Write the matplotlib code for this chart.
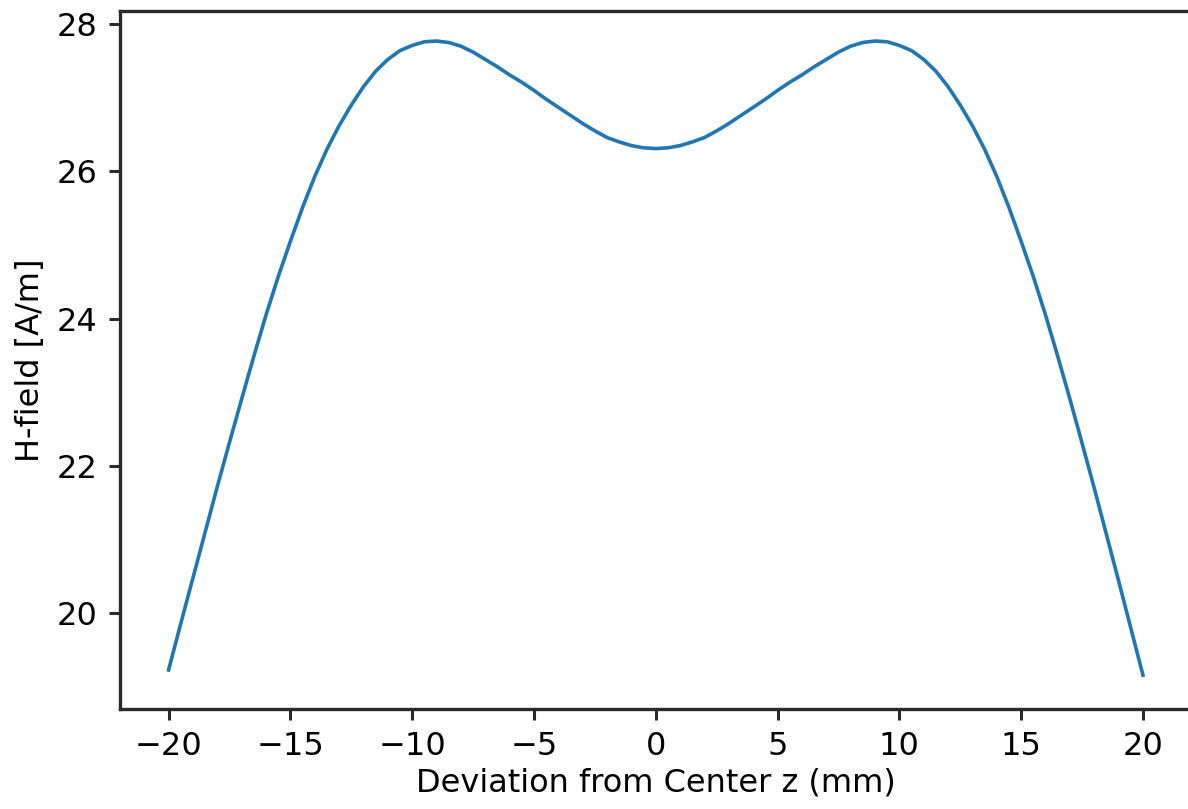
import matplotlib
matplotlib.use("Agg")
import matplotlib.pyplot as plt

# Deviation from center z (mm)
z_mm = [-20, -19.5, -19, -18.5, -18, -17.5, -17, -16.5, -16, -15.5, -15, -14.5, -14, -13.5,
        -13, -12.5, -12, -11.5, -11, -10.5, -10, -9.5, -9, -8.5, -8, -7.5, -7, -6.5, -6, -5.5,
        -5, -4.5, -4, -3.5, -3, -2.5, -2, -1.5, -1, -0.5,
        0, 0.5, 1, 1.5, 2, 2.5, 3, 3.5, 4, 4.5, 5, 5.5, 6, 6.5, 7, 7.5, 8, 8.5, 9, 9.5,
        10, 10.5, 11, 11.5, 12, 12.5, 13, 13.5, 14, 14.5, 15, 15.5, 16, 16.5, 17, 17.5,
        18, 18.5, 19, 19.5, 20]
# H-field (A/m)
h_field = [19.23, 19.86, 20.48, 21.10, 21.72, 22.32, 22.91, 23.49, 24.05, 24.57, 25.05, 25.51,
           25.93, 26.30, 26.62, 26.90, 27.15, 27.36, 27.52, 27.64, 27.71, 27.76, 27.77, 27.75,
           27.70, 27.62, 27.52, 27.42, 27.31, 27.21, 27.10, 26.98, 26.87, 26.76, 26.65, 26.55,
           26.46, 26.40, 26.35, 26.32,
           26.31, 26.32, 26.35, 26.40, 26.46, 26.55, 26.65, 26.76, 26.87, 26.98, 27.10, 27.21,
           27.31, 27.42, 27.52, 27.62, 27.70, 27.75, 27.77, 27.76, 27.71, 27.64, 27.52, 27.36,
           27.15, 26.90, 26.62, 26.30, 25.93, 25.51, 25.05, 24.57, 24.05, 23.49, 22.91, 22.31,
           21.70, 21.07, 20.44, 19.80, 19.16]

x_ticks = [-20, -15, -10, -5, 0, 5, 10, 15, 20]
y_ticks = [20, 22, 24, 26, 28]

fig = plt.figure(figsize=(11.88, 8.09), dpi=100)
ax = fig.add_axes([0.101, 0.1236, 0.902, 0.863])
ax.plot(z_mm, h_field, color="#1f77b4", linewidth=2.6)

ax.set_xticks(x_ticks)
ax.set_yticks(y_ticks)
ax.set_xlim(-21.995, 21.995)
ax.set_ylim(18.70, 28.18)

for s in ax.spines.values():
    s.set_linewidth(2.4)
    s.set_color("#2a2a2a")
ax.spines["right"].set_visible(False)
ax.tick_params(axis="both", labelsize=23, length=8, width=2.2, color="#2a2a2a", pad=8)
ax.set_xlabel("Deviation from Center z (mm)", fontsize=23, labelpad=4)
ax.set_ylabel("H-field [A/m]", fontsize=23, labelpad=8)

fig.savefig("out.png", dpi=100)
